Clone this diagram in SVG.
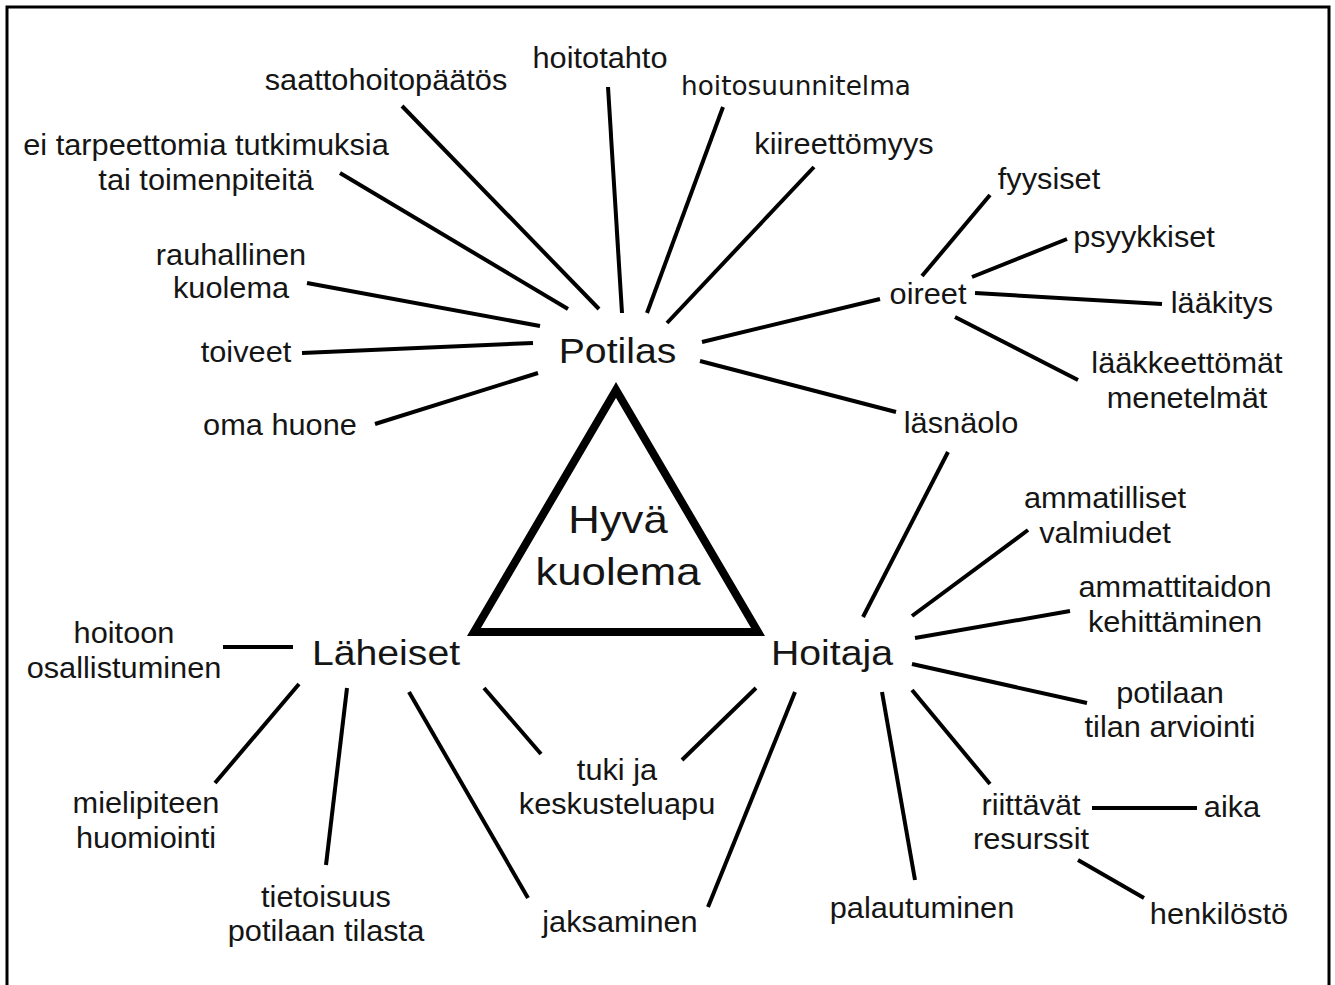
<svg xmlns="http://www.w3.org/2000/svg" width="1335" height="985" viewBox="0 0 1335 985">
<style>
text{font-family:"Liberation Sans",Arial,sans-serif;fill:#151515;text-anchor:middle}
.s{font-size:29px}
.b{font-size:35px}
.h{font-size:39px}
.v{font-family:"DejaVu Sans",Verdana,sans-serif;font-size:27px}
.c line{stroke:#000;stroke-width:4;stroke-linecap:butt}
</style>
<rect width="1335" height="985" fill="#fff"/>
<path d="M7,995 V7 H1329 V995" fill="none" stroke="#000" stroke-width="3"/>
<g id="connectors" class="c">
<line x1="402" y1="106" x2="599" y2="309"/>
<line x1="340" y1="173" x2="568" y2="309"/>
<line x1="307" y1="283" x2="540" y2="326"/>
<line x1="608" y1="87" x2="622" y2="313"/>
<line x1="723" y1="107" x2="647" y2="313"/>
<line x1="814" y1="167" x2="667" y2="323"/>
<line x1="702" y1="342" x2="880" y2="299"/>
<line x1="302" y1="353" x2="533" y2="343"/>
<line x1="375" y1="424" x2="538" y2="373"/>
<line x1="700" y1="361" x2="896" y2="412"/>
<line x1="948" y1="452" x2="863" y2="617"/>
<line x1="990" y1="195" x2="922" y2="276"/>
<line x1="1067" y1="239" x2="972" y2="277"/>
<line x1="975" y1="293" x2="1162" y2="304"/>
<line x1="955" y1="317" x2="1078" y2="380"/>
<line x1="1028" y1="530" x2="912" y2="616"/>
<line x1="1070" y1="611" x2="915" y2="638"/>
<line x1="912" y1="664" x2="1087" y2="703"/>
<line x1="912" y1="690" x2="990" y2="784"/>
<line x1="882" y1="692" x2="915" y2="880"/>
<line x1="1092" y1="808" x2="1197" y2="808"/>
<line x1="1078" y1="860" x2="1144" y2="898"/>
<line x1="795" y1="692" x2="708" y2="907"/>
<line x1="756" y1="688" x2="682" y2="760"/>
<line x1="484" y1="688" x2="541" y2="754"/>
<line x1="409" y1="692" x2="528" y2="898"/>
<line x1="347" y1="688" x2="326" y2="865"/>
<line x1="299" y1="684" x2="215" y2="783"/>
<line x1="223" y1="647" x2="293" y2="647"/>
</g>
<g id="hyva-kuolema">
<polygon points="616,390 474,632 758,632" fill="none" stroke="#000" stroke-width="8" stroke-linejoin="miter"/>
<text class="h" transform="translate(618,533) scale(1.12 1)"><tspan x="0" y="0">Hyvä</tspan><tspan x="0" y="52">kuolema</tspan></text>
</g>
<g id="potilas"><text class="b" transform="translate(617.5,363) scale(1.12 1)">Potilas</text></g>
<g id="laheiset"><text class="b" transform="translate(386,665) scale(1.12 1)">Läheiset</text></g>
<g id="hoitaja"><text class="b" transform="translate(832,665) scale(1.12 1)">Hoitaja</text></g>
<g id="saattohoitopaatos"><text class="s" transform="translate(386,90) scale(1.06 1)">saattohoitopäätös</text></g>
<g id="hoitotahto"><text class="s" transform="translate(600,68) scale(1.06 1)">hoitotahto</text></g>
<g id="hoitosuunnitelma"><text class="v" transform="translate(796,95) scale(0.975 1)">hoitosuunnitelma</text></g>
<g id="kiireettomyys"><text class="s" transform="translate(844,154) scale(1.06 1)">kiireettömyys</text></g>
<g id="ei-tarpeettomia"><text class="s" transform="translate(206,155) scale(1.06 1)"><tspan x="0" y="0">ei tarpeettomia tutkimuksia</tspan><tspan x="0" y="35">tai toimenpiteitä</tspan></text></g>
<g id="rauhallinen"><text class="s" transform="translate(231,265) scale(1.06 1)"><tspan x="0" y="0">rauhallinen</tspan><tspan x="0" y="33.5">kuolema</tspan></text></g>
<g id="toiveet"><text class="s" transform="translate(246,362) scale(1.06 1)">toiveet</text></g>
<g id="oma-huone"><text class="s" transform="translate(280,435) scale(1.06 1)">oma huone</text></g>
<g id="oireet"><text class="s" transform="translate(928,304) scale(1.06 1)">oireet</text></g>
<g id="fyysiset"><text class="s" transform="translate(1049,189) scale(1.06 1)">fyysiset</text></g>
<g id="psyykkiset"><text class="s" transform="translate(1144,247) scale(1.06 1)">psyykkiset</text></g>
<g id="laakitys"><text class="s" transform="translate(1222,313) scale(1.06 1)">lääkitys</text></g>
<g id="laakkeettomat"><text class="s" transform="translate(1187,373) scale(1.06 1)"><tspan x="0" y="0">lääkkeettömät</tspan><tspan x="0" y="35">menetelmät</tspan></text></g>
<g id="lasnaolo"><text class="s" transform="translate(961,433) scale(1.06 1)">läsnäolo</text></g>
<g id="ammatilliset"><text class="s" transform="translate(1105,508) scale(1.06 1)"><tspan x="0" y="0">ammatilliset</tspan><tspan x="0" y="35">valmiudet</tspan></text></g>
<g id="ammattitaidon"><text class="s" transform="translate(1175,597) scale(1.06 1)"><tspan x="0" y="0">ammattitaidon</tspan><tspan x="0" y="35">kehittäminen</tspan></text></g>
<g id="potilaan-tilan"><text class="s" transform="translate(1170,703) scale(1.06 1)"><tspan x="0" y="0">potilaan</tspan><tspan x="0" y="34">tilan arviointi</tspan></text></g>
<g id="riittavat"><text class="s" transform="translate(1031,815) scale(1.06 1)"><tspan x="0" y="0">riittävät</tspan><tspan x="0" y="34">resurssit</tspan></text></g>
<g id="aika"><text class="s" transform="translate(1232,817) scale(1.06 1)">aika</text></g>
<g id="henkilosto"><text class="s" transform="translate(1219,924) scale(1.06 1)">henkilöstö</text></g>
<g id="palautuminen"><text class="s" transform="translate(922,918) scale(1.06 1)">palautuminen</text></g>
<g id="jaksaminen"><text class="s" transform="translate(620,932) scale(1.06 1)">jaksaminen</text></g>
<g id="tuki"><text class="s" transform="translate(617,780) scale(1.06 1)"><tspan x="0" y="0">tuki ja</tspan><tspan x="0" y="34">keskusteluapu</tspan></text></g>
<g id="tietoisuus"><text class="s" transform="translate(326,907) scale(1.06 1)"><tspan x="0" y="0">tietoisuus</tspan><tspan x="0" y="34">potilaan tilasta</tspan></text></g>
<g id="mielipiteen"><text class="s" transform="translate(146,813) scale(1.06 1)"><tspan x="0" y="0">mielipiteen</tspan><tspan x="0" y="35">huomiointi</tspan></text></g>
<g id="hoitoon"><text class="s" transform="translate(124,643) scale(1.06 1)"><tspan x="0" y="0">hoitoon</tspan><tspan x="0" y="35">osallistuminen</tspan></text></g>
</svg>
